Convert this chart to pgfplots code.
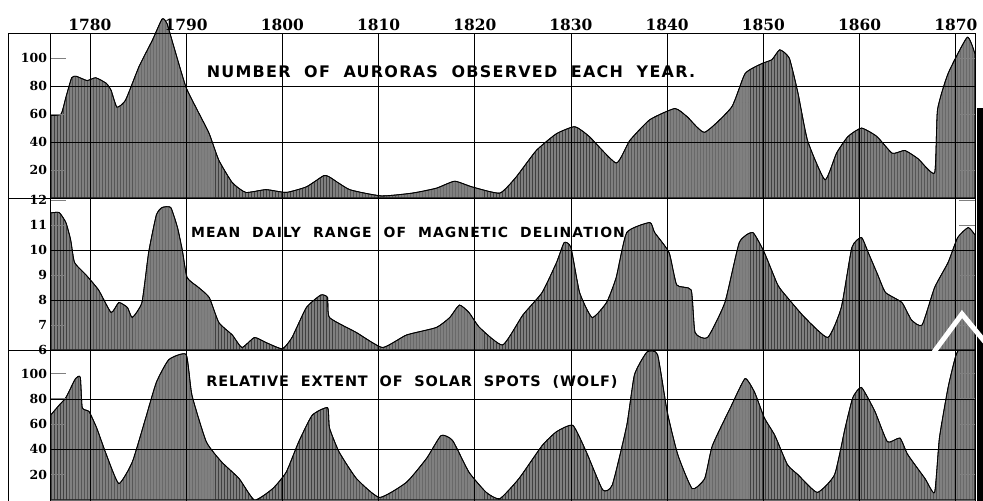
\documentclass[border=0pt]{standalone}
\usepackage{fontspec}
\setmainfont{DejaVu Serif}
\newfontfamily\titlefont{DejaVu Sans}[LetterSpace=8]
\newfontfamily\titlefontb{DejaVu Sans}[LetterSpace=6]
\usepackage{pgfplots}
\pgfplotsset{compat=1.18}
\usetikzlibrary{patterns}

\pgfplotstableread{
year v
1775.9 59
1777.0 60
1777.5 72
1778.1 86
1778.6 87
1779.7 84
1780.6 86
1781.7 82
1782.2 77
1782.8 65
1783.7 70
1785.1 94
1786.5 113
1787.5 128
1788.0 125
1788.9 104
1790.0 79
1791.3 61
1792.4 46
1793.4 27
1794.8 11
1796.2 4
1798.3 6
1800.4 4
1802.5 8
1804.3 16
1804.9 15
1807.0 6
1810.3 1.5
1813.5 3.5
1816.0 7
1817.9 12
1819.7 8
1822.6 3.5
1824.3 15
1826.4 34
1828.5 46
1830.4 51
1831.9 44
1834.7 25
1836.1 41
1838.2 56
1840.8 64
1842.1 58
1843.9 47
1846.7 65
1848.1 89
1849.8 96
1850.9 99
1851.7 106
1852.7 100
1853.6 75
1854.6 41
1856.4 13
1857.6 32
1858.8 44
1860.2 50
1861.8 44
1863.4 32
1864.7 34
1866.1 28
1867.8 18
1868.1 63
1869.2 89
1871.2 115
1872.0 103
}\auroras

\pgfplotstableread{
year v
1775.9 11.48
1776.8 11.5
1777.5 11.1
1778.0 10.4
1778.4 9.5
1779.6 9.0
1780.9 8.4
1782.2 7.5
1783.0 7.9
1783.9 7.7
1784.4 7.3
1785.4 7.9
1786.1 9.9
1786.9 11.4
1787.5 11.7
1788.4 11.7
1789.1 10.9
1789.6 10.0
1790.1 8.9
1791.3 8.5
1792.4 8.1
1793.4 7.1
1794.8 6.6
1795.8 6.1
1797.1 6.5
1798.3 6.3
1800.0 6.05
1801.0 6.5
1802.5 7.7
1804.0 8.2
1804.7 8.1
1804.9 7.3
1807.7 6.7
1810.4 6.1
1812.9 6.6
1816.0 6.9
1817.4 7.3
1818.4 7.8
1819.4 7.5
1820.5 6.9
1822.9 6.2
1825.0 7.4
1827.0 8.3
1828.5 9.5
1829.3 10.3
1830.0 10.1
1830.9 8.3
1832.2 7.3
1833.7 7.9
1834.7 8.9
1835.8 10.7
1838.2 11.1
1838.7 10.7
1840.2 9.9
1841.0 8.6
1842.5 8.4
1842.9 6.7
1844.2 6.5
1846.0 7.9
1847.5 10.3
1848.9 10.7
1850.1 9.9
1851.5 8.6
1852.5 8.1
1854.3 7.3
1856.7 6.5
1858.1 7.7
1859.2 10.1
1860.2 10.5
1860.9 9.9
1861.9 9.0
1862.7 8.3
1864.4 7.9
1865.4 7.2
1866.5 7.0
1867.8 8.5
1869.2 9.5
1870.2 10.5
1871.3 10.9
1872.0 10.6
}\magnetic

\pgfplotstableread{
year v
1775.9 67
1776.8 75
1777.5 81
1778.5 96
1779.0 97
1779.2 73
1779.9 70
1780.7 57
1781.7 36
1783.0 13
1784.4 30
1785.8 65
1786.9 93
1788.2 111
1790.0 115
1790.6 83
1792.1 46
1793.7 30
1795.5 17
1797.1 0
1799.0 9
1800.4 22
1801.7 46
1803.1 67
1804.7 73
1804.9 57
1805.9 38
1807.7 17
1810.1 2
1812.9 14
1815.0 33
1816.5 51
1817.7 47
1819.4 22
1821.2 6
1822.6 1
1824.6 17
1827.0 43
1828.5 54
1830.2 59
1831.6 38
1833.3 8
1834.3 12
1835.8 59
1836.6 99
1837.9 117
1839.0 115
1840.0 70
1841.1 36
1842.6 9
1843.9 17
1844.7 43
1846.7 75
1848.1 96
1849.1 85
1850.1 65
1851.2 51
1852.5 28
1853.6 20
1855.6 6
1857.4 20
1858.5 57
1859.3 81
1860.2 89
1861.6 70
1862.9 46
1864.2 49
1865.0 36
1866.8 17
1867.8 6
1868.3 49
1869.2 89
1870.0 114
1870.6 122
1872.0 122
}\sunspots

\pgfplotsset{
  panel/.style={
    scale only axis, width=924.5bp,
    xmin=1775.9, xmax=1872,
    axis on top,
    xtick={1780,1790,...,1870},
    xmajorgrids,
    xtick style={draw=none},
    xticklabels={},
    tick align=inside,
    major tick length=16bp,
    ytick style={line width=0.8pt},
    yticklabel style={font=\bfseries\fontsize{12.5}{12.5}\selectfont},
    /pgf/number format/assume math mode=true,
    /pgf/number format/1000 sep={},
    grid style={black, line width=0.6pt},
    axis line style={line width=0.8pt},
  },
  area/.style={draw=black, line width=0.8pt, smooth, tension=0.3,
    fill=black!50, postaction={pattern=vertical lines, pattern color=black!75}},
}

\begin{document}
\begin{tikzpicture}
\useasboundingbox (0,0) rectangle (983bp,-501bp);

% auroras
\begin{axis}[panel, at={(50.5bp,-33bp)}, anchor=north west, height=165bp,
    ymin=0, ymax=118, clip=false,
    ytick={20,40,60,80,100},
    extra y ticks={40,80}, extra y tick labels={},
    extra y tick style={grid=major, major tick length=0pt},
    xticklabel pos=upper,
    xticklabels={1780,1790,1800,1810,1820,1830,1840,1850,1860,1870},
    xticklabel style={font=\bfseries\fontsize{15.5}{15.5}\selectfont, yshift=-1bp}]
  \addplot[area] table[x=year, y=v] {\auroras} \closedcycle;
\end{axis}

% magnetic declination
\begin{axis}[panel, at={(50.5bp,-198bp)}, anchor=north west, height=152bp,
    ymin=6, ymax=12.08,
    ytick={6,7,8,9,10,11,12},
    extra y ticks={8,10}, extra y tick labels={},
    extra y tick style={grid=major, major tick length=0pt}]
  \addplot[area] table[x=year, y=v] {\magnetic} \closedcycle;
\end{axis}

% sunspots
\begin{axis}[panel, at={(50.5bp,-350bp)}, anchor=north west, height=151bp,
    ymin=-0.8, ymax=118.6,
    ytick={20,40,60,80,100},
    extra y ticks={40,80}, extra y tick labels={},
    extra y tick style={grid=major, major tick length=0pt}]
  \addplot[area] table[x=year, y=v] {\sunspots} \closedcycle;
\end{axis}

% frame of the label column
\draw[line width=0.8pt] (8bp,-33bp) -- (50.5bp,-33bp);
\draw[line width=0.8pt] (8bp,-198bp) -- (50.5bp,-198bp);
\draw[line width=0.8pt] (8bp,-350bp) -- (50.5bp,-350bp);
\draw[line width=0.8pt] (8bp,-33bp) -- (8bp,-501bp);

% scan artefacts at the right edge
\fill[black] (977bp,-108bp) rectangle (983bp,-501bp);
\draw[white, line width=5bp] (934bp,-352bp) -- (962bp,-314bp) -- (985bp,-342bp);

% panel titles
\node[font=\titlefont\bfseries\fontsize{16}{16}\selectfont] at (451bp,-72bp)
  {NUMBER \ OF \ AURORAS \ OBSERVED \ EACH \ YEAR.};
\node[font=\titlefont\bfseries\fontsize{14}{14}\selectfont] at (408bp,-232bp)
  {MEAN \ DAILY \ RANGE \ OF \ MAGNETIC \ DELINATION};
\node[font=\titlefontb\bfseries\fontsize{14.5}{14.5}\selectfont] at (412bp,-382bp)
  {RELATIVE \ EXTENT \ OF \ SOLAR \ SPOTS \ (WOLF)};
\end{tikzpicture}
\end{document}
